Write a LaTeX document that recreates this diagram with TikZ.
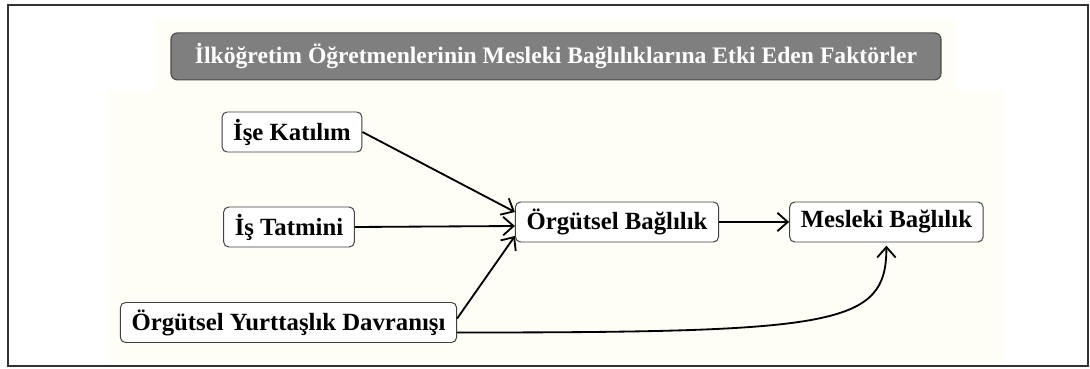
\documentclass[tikz,border=0pt]{standalone}
\usepackage{fontspec}
\setmainfont{Liberation Serif}
\usepackage{tikz}
\usetikzlibrary{arrows.meta}
\definecolor{cream}{HTML}{FEFDF6}
\definecolor{titlegray}{HTML}{7F7F7F}
\tikzset{factor/.style={draw=black!75,line width=0.7pt,rounded corners=1.3mm,fill=white,
    font=\fontsize{17.6}{20}\selectfont\bfseries,minimum height=1cm,inner xsep=2.8mm},
    titlebox/.style={draw=black!70,line width=0.8pt,rounded corners=1.6mm,fill=titlegray,
    text=white,font=\fontsize{16.8}{20}\selectfont\bfseries,minimum width=19.25cm,minimum height=1.175cm},
    link/.style={-{Straight Barb[length=2.6mm,width=4.6mm]},line width=1.3pt},
    >=Straight Barb}

\begin{document}
\begin{tikzpicture}[]
            \useasboundingbox (0,0) rectangle (27.25,9.2);
            \fill[cream] (3.875,8.7) -- (23.875,8.7) -- (23.875,6.95) -- (25.075,6.95)
                -- (25.075,0.15) -- (2.7,0.15) -- (2.7,6.95) -- (3.875,6.95) -- cycle;
            \draw[black!80,line width=1pt] (0.2,0.05) rectangle (27.2,9.075);
            \node[titlebox] (title) at (13.9,7.79)
                {İlköğretim Öğretmenlerinin Mesleki Bağlılıklarına Etki Eden Faktörler};
            \node[factor] (katilim) at (7.3,5.9) {İşe Katılım};
            \node[factor] (tatmin) at (7.225,3.525) {İş Tatmini};
            \node[factor] (yurttas) at (7.2125,1.1375) {Örgütsel Yurttaşlık Davranışı};
            \node[factor] (orgbag) at (15.425,3.65) {Örgütsel Bağlılık};
            \node[factor] (mesbag) at (22.16,3.65) {Mesleki Bağlılık};
            \draw[link] (katilim.east) -- ([yshift=2.5mm]orgbag.west);
            \draw[link] (tatmin.east) -- ([yshift=-1mm]orgbag.west);
            \draw[link] ([yshift=1mm]yurttas.east) -- ([yshift=-3.5mm]orgbag.west);
            \draw[link] ([yshift=-2.5mm]yurttas.east) .. controls +(9.5,0) and +(0,-2) .. ([yshift=-0.8mm]mesbag.south);
            \draw[link] (orgbag.east) -- (mesbag.west);
        \end{tikzpicture}
\end{document}
